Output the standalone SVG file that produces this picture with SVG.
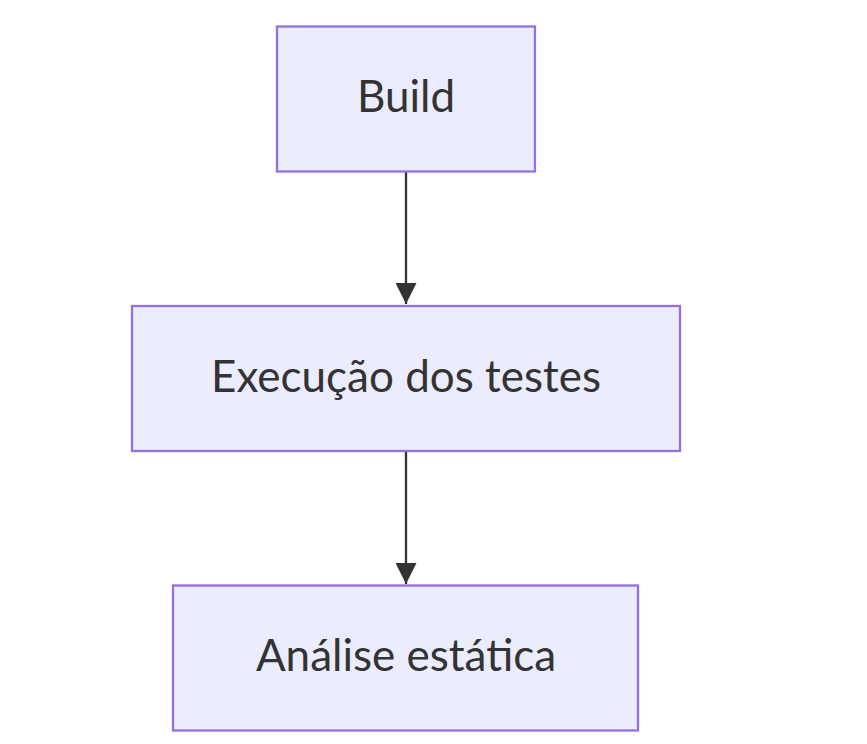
<svg xmlns="http://www.w3.org/2000/svg" width="867" height="744" viewBox="0 0 867 744">
<style>
.node rect{fill:#ECECFF;stroke:#9370DB;stroke-width:2.3}
.node text{font-family:Lato,"Open Sans","DejaVu Sans",sans-serif;font-size:44px;fill:#333333;text-anchor:middle}
.edge{stroke:#333333;stroke-width:2.3;fill:none}
</style>
<defs>
<marker id="arrow" markerUnits="userSpaceOnUse" markerWidth="22" markerHeight="21" refX="21" refY="10.5" orient="auto">
<path d="M0,0 L21,10.5 L0,21 Z" fill="#333333"/>
</marker>
</defs>
<rect width="867" height="744" fill="#ffffff"/>
<g id="connectors">
<path class="edge" d="M406,172 L406,304" marker-end="url(#arrow)"/>
<path class="edge" d="M406,451 L406,584" marker-end="url(#arrow)"/>
</g>
<g id="build" class="node">
<rect x="277" y="26.5" width="258" height="145"/>
<text x="406" y="112">Build</text>
</g>
<g id="execucao" class="node">
<rect x="132" y="306" width="548" height="145"/>
<text x="406" y="392">Execução dos testes</text>
</g>
<g id="analise" class="node">
<rect x="173" y="585.5" width="465" height="145"/>
<text x="406" y="671">Análise estática</text>
</g>
</svg>
